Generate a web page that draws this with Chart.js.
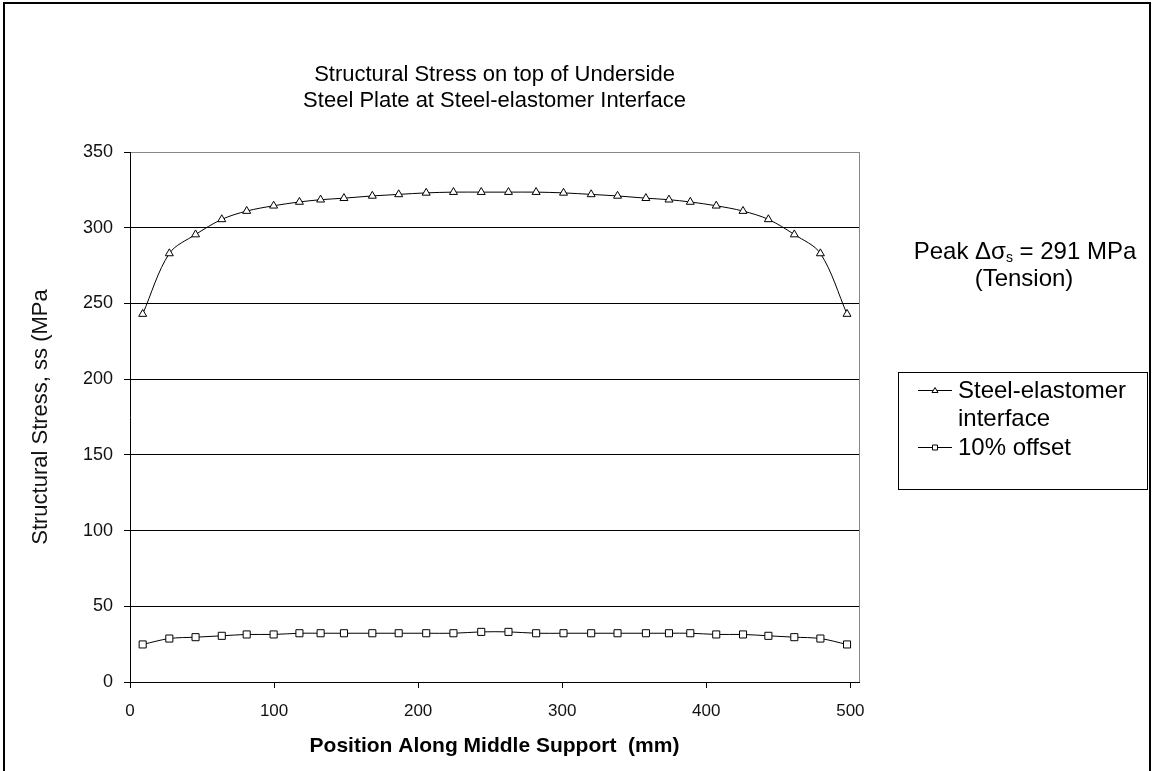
<!DOCTYPE html>
<html>
<head>
<meta charset="utf-8">
<title>Structural Stress on top of Underside Steel Plate</title>
<script src="https://cdn.jsdelivr.net/npm/chart.js@4.4.1/dist/chart.umd.min.js"></script>
<style>
  body { margin: 0; background: #fff; }
  canvas { display: block; }
</style>
</head>
<body>
<canvas id="stressChart" width="1154" height="771"></canvas>
<script>
// position along the support (mm)
const positions = [8.8, 27.3, 45.5, 63.7, 81, 99.7, 117.6, 132.3, 148.5, 168.2, 186.5, 205.6, 224.5, 243.8,
                   262.7, 281.9, 300.9, 320.1, 338.4, 358.1, 374.1, 388.9, 406.9, 425.5, 443.1, 461.1, 479.2, 497.7];
// structural stress (MPa)
const interfaceStress = [243, 283, 295.5, 305.5, 311, 314.5, 317, 318.5, 319.5, 321, 322, 323, 323.5, 323.5,
                         323.5, 323.5, 323, 322, 321, 319.5, 318.5, 317, 314.5, 311, 305.5, 295.5, 283, 243];
const offsetStress = [24.8, 28.7, 29.6, 30.5, 31.4, 31.4, 32.2, 32.2, 32.2, 32.2, 32.2, 32.2, 32.2, 33.1,
                      33.1, 32.2, 32.2, 32.2, 32.2, 32.2, 32.2, 32.2, 31.4, 31.4, 30.5, 29.6, 28.7, 24.8];
const seriesNames = ['Steel-elastomer interface', '10% offset'];
const xTicks = [0, 100, 200, 300, 400, 500];
const yTicks = [0, 50, 100, 150, 200, 250, 300, 350];
const titleLines = ['Structural Stress on top of Underside', 'Steel Plate at Steel-elastomer Interface'];

const FONT = "'Liberation Sans', Arial, sans-serif";
Chart.defaults.font.family = FONT;

const toPoints = ys => ys.map((y, i) => ({ x: positions[i], y: y }));

// title, note, legend box and frame are drawn by hand (Excel style)
const decorations = {
    id: 'decorations',
    beforeDraw(chart) {
        const ctx = chart.ctx;
        ctx.save();
        ctx.fillStyle = '#fff';
        ctx.fillRect(0, 0, chart.width, chart.height);
        ctx.restore();
    },
    afterDraw(chart) {
        const ctx = chart.ctx;
        const a = chart.chartArea;
        ctx.save();

        // right edge of plot area
        ctx.strokeStyle = '#888';
        ctx.lineWidth = 1;
        ctx.beginPath();
        ctx.moveTo(a.right + 0.5, a.top);
        ctx.lineTo(a.right + 0.5, a.bottom);
        ctx.stroke();

        // outer frame
        ctx.strokeStyle = '#000';
        ctx.lineWidth = 2;
        ctx.strokeRect(4, 3, 1146, 800);

        // title
        ctx.fillStyle = '#000';
        ctx.textAlign = 'center';
        ctx.textBaseline = 'middle';
        ctx.font = '22px ' + FONT;
        titleLines.forEach((t, i) => ctx.fillText(t, (a.left + a.right) / 2, 75 + i * 26));

        // peak note
        const big = '24px ' + FONT, small = '14px ' + FONT;
        ctx.font = big;
        const p1 = 'Peak \u0394\u03c3', p2 = 's', p3 = ' = 291 MPa';
        const w1 = ctx.measureText(p1).width, w3 = ctx.measureText(p3).width;
        ctx.font = small;
        const w2 = ctx.measureText(p2).width;
        const nx = 1025 - (w1 + w2 + w3) / 2;
        ctx.textAlign = 'left';
        ctx.font = big;
        ctx.fillText(p1, nx, 252);
        ctx.font = small;
        ctx.fillText(p2, nx + w1, 258);
        ctx.font = big;
        ctx.fillText(p3, nx + w1 + w2, 252);
        ctx.textAlign = 'center';
        ctx.fillText('(Tension)', 1024, 279);

        // legend
        ctx.strokeStyle = '#000';
        ctx.lineWidth = 1;
        ctx.strokeRect(898.5, 372.5, 249, 117);
        const rows = [
            { y: 390, style: 'triangle', lines: ['Steel-elastomer', 'interface'] },
            { y: 447, style: 'rect', lines: ['10% offset'] }
        ];
        ctx.textAlign = 'left';
        ctx.font = big;
        rows.forEach(r => {
            ctx.beginPath();
            ctx.moveTo(918, r.y + 0.5);
            ctx.lineTo(952, r.y + 0.5);
            ctx.stroke();
            ctx.fillStyle = '#fff';
            ctx.beginPath();
            if (r.style === 'triangle') {
                ctx.moveTo(935, r.y - 2.5);
                ctx.lineTo(938, r.y + 2.5);
                ctx.lineTo(932, r.y + 2.5);
                ctx.closePath();
            } else {
                ctx.rect(932.5, r.y - 2, 5, 5);
            }
            ctx.fill();
            ctx.stroke();
            ctx.fillStyle = '#000';
            r.lines.forEach((t, i) => ctx.fillText(t, 958, r.y + 1 + i * 28));
        });

        ctx.restore();
    }
};

const ctxStress = document.getElementById('stressChart').getContext('2d');
const stressChart = new Chart(ctxStress, {
    type: 'line',
    data: {
        datasets: [
            {
                label: seriesNames[0],
                data: toPoints(interfaceStress),
                borderColor: '#000',
                borderWidth: 1,
                pointStyle: 'triangle',
                pointRadius: 4.6,
                pointBackgroundColor: '#fff',
                pointBorderColor: '#000',
                pointBorderWidth: 1,
                tension: 0.33
            },
            {
                label: seriesNames[1],
                data: toPoints(offsetStress),
                borderColor: '#000',
                borderWidth: 1,
                pointStyle: 'rect',
                pointRadius: 5,
                pointBackgroundColor: '#fff',
                pointBorderColor: '#000',
                pointBorderWidth: 1,
                tension: 0.33
            }
        ]
    },
    options: {
        responsive: false,
        animation: false,
        layout: {
            padding: { top: 152, right: 295, left: 0, bottom: 0 }
        },
        plugins: {
            legend: { display: false },
            title: { display: false },
            tooltip: { enabled: false }
        },
        scales: {
            x: {
                type: 'linear',
                min: 0,
                max: 506,
                afterBuildTicks: s => { s.ticks = xTicks.map(v => ({ value: v })); },
                afterFit: s => { s.height = 89; },
                grid: { drawOnChartArea: false, tickLength: 6, color: '#000', tickColor: '#000' },
                border: { color: '#000', width: 1 },
                ticks: { padding: 13, color: '#111', font: { size: 17 }, maxRotation: 0 },
                title: {
                    display: true,
                    text: 'Position Along Middle Support  (mm)',
                    color: '#000',
                    font: { size: 21, weight: 'bold' },
                    padding: { top: 0, bottom: 12 }
                }
            },
            y: {
                min: 0,
                max: 350,
                afterBuildTicks: s => { s.ticks = yTicks.map(v => ({ value: v })); },
                afterFit: s => { s.width = 130; },
                grid: {
                    color: c => (c.tick && c.tick.value === 350) ? '#888' : '#000',
                    tickLength: 6,
                    tickColor: '#000'
                },
                border: { color: '#000', width: 1 },
                ticks: { padding: 11, color: '#111', font: { size: 18 } },
                title: {
                    display: true,
                    text: 'Structural Stress, ss (MPa',
                    color: '#111',
                    font: { size: 22 },
                    padding: { top: 28, bottom: 0 }
                }
            }
        }
    },
    plugins: [decorations]
});
</script>
</body>
</html>
